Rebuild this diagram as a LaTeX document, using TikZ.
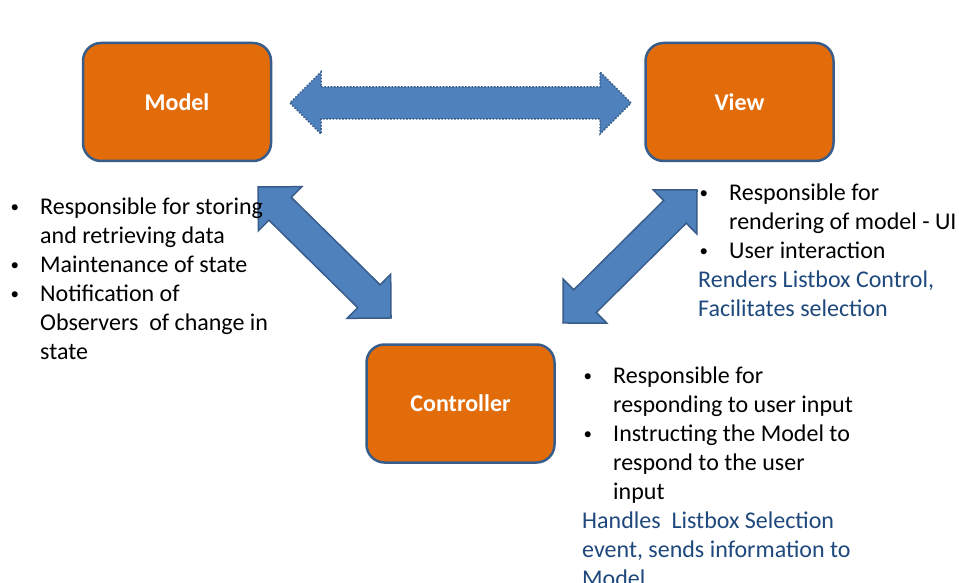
\documentclass[tikz,border=0pt]{standalone}
\usepackage{fontspec}
\setmainfont{Carlito}
\definecolor{boxfill}{RGB}{227,108,10}
\definecolor{boxline}{RGB}{56,93,138}
\definecolor{arrfill}{RGB}{79,129,189}
\definecolor{notetext}{RGB}{31,73,125}
\newcommand\bul{\makebox[31pt][l]{\hspace{1.5pt}\raisebox{1.5pt}{\fontsize{17}{29}\selectfont•}}}
\newcommand\ind{\hspace*{31pt}}
% #1 options, #2 x, #3 y (tip), #4 angle, #5 length
\newcommand\mvcarrow[5][]{%
\begin{scope}[shift={(#2,#3)}, rotate=#4]
\draw[blockarrow,#1] (0,0) -- (31,31) -- (31,16) -- ({#5-31},16) -- ({#5-31},31) -- (#5,0)
  -- ({#5-31},-31) -- ({#5-31},-16) -- (31,-16) -- (31,-31) -- cycle;
\end{scope}}
\tikzset{
  mvcbox/.style={draw=boxline, line width=2.5pt, fill=boxfill, rounded corners=18pt,
    minimum width=188pt, minimum height=118pt, text=white, font=\fontsize{24}{29}\selectfont\bfseries},
  blockarrow/.style={draw=boxline, line width=1.5pt, fill=arrfill, line join=miter},
  dottedborder/.style={dash pattern=on 1.6pt off 1.6pt},
  note/.style={anchor=north west, inner sep=0pt, align=left, font=\fontsize{24}{29}\selectfont},
  bluenote/.style={text=notetext}
}
\begin{document}
\begin{tikzpicture}[x=1pt, y=-1pt]
\useasboundingbox (0,0) rectangle (959,583);
\fill[white] (0,0) rectangle (959,583);

\node[mvcbox] (model) at (177,102) {Model};
\node[mvcbox] (view) at (739.5,102) {View};
\node[mvcbox] (controller) at (460.5,403.5) {Controller};

\mvcarrow[dottedborder]{290}{103}{0}{341}
\mvcarrow{258}{187}{-44.56}{186.7}
\mvcarrow{697}{190}{-135.22}{188.8}

\node[note] (modelnotes) at (9,193.7) {\strut\bul Responsible for storing\\
\ind and retrieving data\\
\bul Maintenance of state\\
\bul Notification of\\
\ind Observers\ \ of change in\\
\ind state};

\node[note] (viewnotes) at (698,179.7) {\strut\bul Responsible for\\
\ind rendering of model - UI\\
\bul User interaction\\
\textcolor{notetext}{Renders Listbox Control,}\\
\textcolor{notetext}{Facilitates selection}};

\node[note] (controllernotes) at (582,362.7) {\strut\bul Responsible for\\
\ind responding to user input\\
\bul Instructing the Model to\\
\ind respond to the user\\
\ind input\\
\textcolor{notetext}{Handles\ \ Listbox Selection}\\
\textcolor{notetext}{event, sends information to}\\
\textcolor{notetext}{Model}};
\end{tikzpicture}
\end{document}
